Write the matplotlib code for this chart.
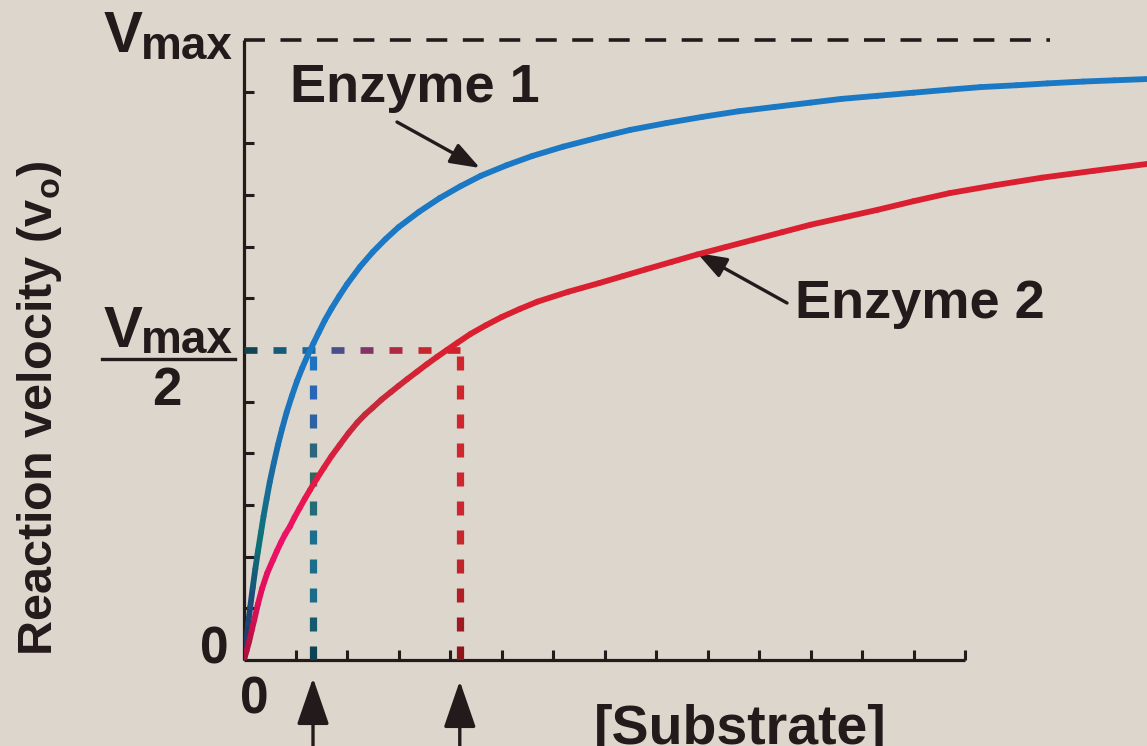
import matplotlib
matplotlib.use('Agg')
import matplotlib.pyplot as plt
import numpy as np
from matplotlib.collections import LineCollection
from matplotlib.colors import LinearSegmentedColormap
from matplotlib.lines import Line2D

# Curves ([Substrate] in tick units, velocity as fraction of Vmax)
substrate_e1 = [0, 0.04, 0.08, 0.12, 0.17, 0.22, 0.27, 0.33, 0.38, 0.44, 0.5, 0.58,
                0.66, 0.74, 0.83, 0.93, 1.03, 1.13, 1.24, 1.35, 1.45, 1.57, 1.7, 1.85,
                2.0, 2.25, 2.5, 2.75, 3.0, 3.4, 3.8, 4.2, 4.6, 5.1, 5.6, 6.2,
                6.9, 7.5, 8.2, 8.9, 9.6, 10.3, 11.0, 11.6, 12.3, 13.0, 13.7, 14.3,
                15.0, 15.6, 16.3, 16.9, 17.53]
velocity_e1 = [0, 0.03, 0.058, 0.085, 0.117, 0.147, 0.175, 0.206, 0.232, 0.26, 0.287, 0.318,
               0.347, 0.373, 0.4, 0.426, 0.45, 0.471, 0.492, 0.511, 0.528, 0.548, 0.567, 0.587,
               0.606, 0.634, 0.658, 0.679, 0.698, 0.723, 0.745, 0.764, 0.781, 0.798, 0.813, 0.828,
               0.843, 0.855, 0.866, 0.876, 0.885, 0.892, 0.899, 0.905, 0.91, 0.915, 0.92, 0.924,
               0.927, 0.93, 0.933, 0.935, 0.937]

substrate_e2 = [0, 0.05, 0.1, 0.15, 0.2, 0.27, 0.35, 0.45, 0.56, 0.64, 0.72, 0.8,
                0.89, 0.98, 1.08, 1.18, 1.28, 1.41, 1.55, 1.7, 1.86, 2.03, 2.2, 2.35,
                2.5, 2.67, 2.85, 3.0, 3.17, 3.36, 3.55, 3.75, 3.94, 4.15, 4.4, 4.7,
                5.0, 5.35, 5.7, 6.3, 6.9, 7.35, 7.8, 8.3, 8.8, 9.35, 9.9, 10.45,
                11.0, 11.65, 12.3, 13.0, 13.7, 14.6, 15.5, 16.5, 17.53]
velocity_e2 = [0, 0.015, 0.03, 0.048, 0.065, 0.09, 0.115, 0.14, 0.161, 0.176, 0.19, 0.203,
               0.215, 0.23, 0.245, 0.26, 0.274, 0.292, 0.31, 0.329, 0.347, 0.366, 0.383, 0.396,
               0.407, 0.42, 0.432, 0.442, 0.453, 0.465, 0.477, 0.489, 0.5, 0.512, 0.526, 0.54,
               0.553, 0.566, 0.578, 0.594, 0.608, 0.619, 0.63, 0.642, 0.654, 0.666, 0.678, 0.69,
               0.702, 0.714, 0.726, 0.74, 0.753, 0.766, 0.778, 0.789, 0.8]

vmax = 1.0
km_1 = 1.34
km_2 = 4.19
x_ticks = list(range(0, 15))
y_ticks = [k / 12 for k in range(1, 12)]

W, H = 1147, 746
bg = '#ddd6cc'
ink = '#231a1c'
plt.rcParams['font.family'] = ['Liberation Sans', 'DejaVu Sans']
plt.rcParams['font.weight'] = 'bold'
plt.rcParams['mathtext.fontset'] = 'custom'
plt.rcParams['mathtext.rm'] = 'Liberation Sans:bold'
plt.rcParams['mathtext.bf'] = 'Liberation Sans:bold'


def fx(x):
    return x / W


def fy(y):
    return 1 - y / H


fig = plt.figure(figsize=(W / 100, H / 100), dpi=100)
fig.patch.set_facecolor(bg)
ax = fig.add_axes([fx(244), 86 / H, 1 - fx(244), 660 / H])
ax.patch.set_visible(False)
ax.set_xlim(0, (W - 244) / 51.5)
ax.set_ylim(0, 660 / 620)

for side in ['top', 'right']:
    ax.spines[side].set_visible(False)
for side in ['left', 'bottom']:
    ax.spines[side].set_linewidth(2.3)
    ax.spines[side].set_color(ink)
    ax.spines[side].set_capstyle('butt')
ax.spines['left'].set_bounds(0, vmax)
ax.spines['bottom'].set_bounds(0, x_ticks[-1])

ax.set_xticks(x_ticks)
ax.set_xticklabels([])
ax.set_yticks(y_ticks)
ax.set_yticklabels([])
ax.tick_params(direction='in', length=7, width=2.2, color=ink)


def gradient_curve(x, y, colors, lw):
    pts = np.column_stack([x, y])
    segs = np.stack([pts[:-1], pts[1:]], axis=1)
    cmap = LinearSegmentedColormap.from_list('c', colors)
    mid = (pts[:-1, 1] + pts[1:, 1]) / 2
    lc = LineCollection(segs, colors=cmap(np.clip(mid / 0.5, 0, 1)),
                        linewidths=lw, capstyle='round', joinstyle='round', zorder=4)
    ax.add_collection(lc)


def gradient_dashes(p0, p1, colors, lw, period, dash):
    a = ax.transData.transform(p0)
    b = ax.transData.transform(p1)
    length = np.hypot(*(b - a))
    unit = (b - a) / length
    cmap = LinearSegmentedColormap.from_list('d', colors)
    segs, cols = [], []
    for s in np.arange(0, length, period):
        e = min(s + dash, length)
        seg = ax.transData.inverted().transform([a + unit * s, a + unit * e])
        segs.append(seg)
        cols.append(cmap((s + e) / 2 / length))
    ax.add_collection(LineCollection(segs, colors=cols, linewidths=lw,
                                     capstyle='butt', zorder=3))


fig.canvas.draw()

# Vmax reference line
ax.plot([0, 15.65], [vmax, vmax], color=ink, lw=2.6, dashes=(5.8, 4.3),
        clip_on=False, zorder=3)

# Vmax/2 and Km guide lines
gradient_dashes((0, vmax / 2), (km_2, vmax / 2),
                ['#123f4a', '#155a78', '#1a6aa0', '#6a3a80', '#a82a48', '#c8262c', '#cc2428'],
                4.8, 29, 13)
gradient_dashes((km_1, 0), (km_1, vmax / 2),
                ['#0c3f4c', '#1a6c88', '#1c6e8e', '#2a6a5c', '#2f5fb0', '#1a78c4'],
                5.2, 29, 14)
gradient_dashes((km_2, 0), (km_2, vmax / 2),
                ['#8a1418', '#c8262e', '#d0262e', '#d2242c'],
                5.2, 29, 14)

# Curves
gradient_curve(substrate_e1, velocity_e1,
               ['#22335e', '#1b4e7a', '#0c7476', '#1a6aa0', '#1a74bc', '#1a78c4'], 4.2)
gradient_curve(substrate_e2, velocity_e2,
               ['#a8103c', '#e0105a', '#f0106a', '#e41a40', '#c42a3c', '#da2030'], 4.2)

# Labels
txt = dict(color=ink, fontweight='bold')
fig.text(fx(40), fy(408), r'Reaction velocity (v$_\mathbf{o}$)', rotation=90,
         ha='center', va='center', fontsize=35, **txt)
fig.text(fx(104), fy(52), 'V', ha='left', va='baseline', fontsize=42, **txt)
fig.text(fx(141), fy(59), 'max', ha='left', va='baseline', fontsize=33, **txt)
fig.text(fx(104), fy(347), 'V', ha='left', va='baseline', fontsize=42, **txt)
fig.text(fx(141), fy(353), 'max', ha='left', va='baseline', fontsize=33, **txt)
fig.add_artist(Line2D([fx(102), fx(235)], [fy(359), fy(359)], lw=2.4, color=ink))
fig.text(fx(167), fy(405), '2', ha='center', va='baseline', fontsize=38, **txt)
fig.text(fx(214), fy(663), '0', ha='center', va='baseline', fontsize=37, **txt)
fig.text(fx(254), fy(714), '0', ha='center', va='baseline', fontsize=37, **txt)
fig.text(fx(740), fy(704), '[Substrate]', ha='center', va='top', fontsize=40, **txt)
fig.text(fx(290), fy(102), 'Enzyme 1', ha='left', va='baseline', fontsize=39, **txt)
fig.text(fx(795), fy(318), 'Enzyme 2', ha='left', va='baseline', fontsize=39, **txt)

# Pointer arrows
small = dict(arrowstyle='-|>,head_length=1.8,head_width=0.65', lw=2.4, color=ink,
             shrinkA=0, shrinkB=0)
ax.annotate('', xy=(480, H - 168), xycoords='figure pixels',
            xytext=(397, H - 122), textcoords='figure pixels', arrowprops=small)
ax.annotate('', xy=(697, H - 253), xycoords='figure pixels',
            xytext=(787, H - 303), textcoords='figure pixels', arrowprops=small)
big = dict(arrowstyle='-|>,head_length=2.9,head_width=1.0', lw=2.4, color=ink,
           shrinkA=0, shrinkB=0)
for km, tip in [(km_1, 678), (km_2, 681)]:
    ax.annotate('', xy=(km, H - tip), xycoords=('data', 'figure pixels'),
                xytext=(km, -20), textcoords=('data', 'figure pixels'),
                arrowprops=big, annotation_clip=False)

fig.savefig('out.png', dpi=100, facecolor=bg)
